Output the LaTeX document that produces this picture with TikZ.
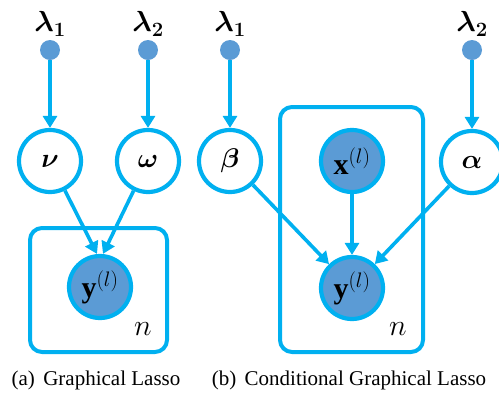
\RequirePackage{fix-cm}
\documentclass[tikz,border=0pt]{standalone}
\usepackage{amsmath,bm}
\usepackage{fontspec}
\setmainfont{Liberation Serif}
\usetikzlibrary{arrows.meta}
\definecolor{edge}{HTML}{00B0F0}
\definecolor{fillb}{HTML}{5B9BD5}
\tikzset{
  var/.style={circle, draw=edge, line width=4.2pt, minimum size=62pt, inner sep=0pt, fill=white, font=\fontsize{27}{30}\selectfont},
  obs/.style={var, fill=fillb, font=\fontsize{30}{34}\selectfont},
  hyper/.style={circle, fill=fillb, minimum size=20pt, inner sep=0pt},
  hlabel/.style={font=\fontsize{29}{32}\selectfont, inner sep=0pt},
  nlabel/.style={font=\fontsize{30}{34}\selectfont, inner sep=0pt},
  plate/.style={draw=edge, line width=4pt, rounded corners=12pt},
  conn/.style={draw=edge, line width=3.6pt, -{Triangle[length=12pt,width=14pt]}},
  caption/.style={font=\fontsize{21}{24}\selectfont, inner sep=0pt, anchor=base}
}
\begin{document}
\begin{tikzpicture}[x=1pt,y=-1pt]
\useasboundingbox (0,0) rectangle (499,392);
% left panel
\draw[plate] (30,228) rectangle (167,352);
\node[hyper] (h1) at (50,50) {};
\node[hyper] (h2) at (148,50) {};
\node[hlabel] (l1) at (50,24) {$\bm{\lambda_1}$};
\node[hlabel] (l2) at (148,24) {$\bm{\lambda_2}$};
\node[var] (nu) at (50,161) {$\bm{\nu}$};
\node[var] (om) at (148,161) {$\bm{\omega}$};
\node[obs] (ya) at (100,287) {$\mathbf{y}^{(l)}$};
\node[nlabel] (na) at (143,329) {$n$};
\draw[conn] (h1) -- (nu);
\draw[conn] (h2) -- (om);
\draw[conn] (nu) -- ([xshift=-3pt]ya.north);
\draw[conn] (om) -- ([xshift=3pt]ya.north);
% right panel
\draw[plate] (280,107) rectangle (423,352);
\node[hyper] (h3) at (230,50) {};
\node[hyper] (h4) at (472,50) {};
\node[hlabel] (l3) at (230,24) {$\bm{\lambda_1}$};
\node[hlabel] (l4) at (472,24) {$\bm{\lambda_2}$};
\node[var] (be) at (230,161) {$\bm{\beta}$};
\node[var] (al) at (472,162) {$\bm{\alpha}$};
\node[obs] (xb) at (352,161) {$\mathbf{x}^{(l)}$};
\node[obs] (yb) at (352,288) {$\mathbf{y}^{(l)}$};
\node[nlabel] (nb) at (398,329) {$n$};
\draw[conn] (h3) -- (be);
\draw[conn] (h4) -- (al);
\draw[conn] (be) -- (yb);
\draw[conn] (al) -- (yb);
\draw[conn] (xb) -- (yb);
% captions
\node[caption] (ca) at (96,385) {(a)\hspace{0.4em}Graphical Lasso};
\node[caption] (cb) at (349,385) {(b)\hspace{0.4em}Conditional Graphical Lasso};
\end{tikzpicture}
\end{document}
